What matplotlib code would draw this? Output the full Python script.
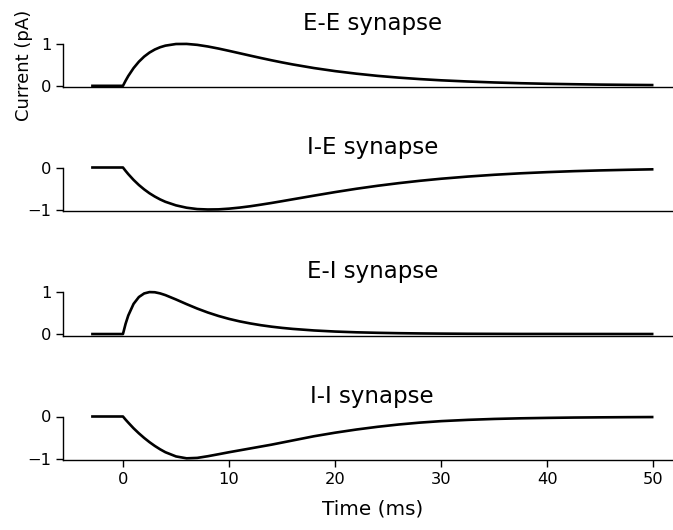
import matplotlib
matplotlib.use("Agg")
import matplotlib.pyplot as plt

# ---- data ----
time_ms = [-3, 0, 0.25, 0.5, 1, 1.5, 2, 2.5, 3, 3.5, 4, 5, 6, 7, 8, 9, 10, 11, 12,
           13, 14, 15, 16, 18, 20, 22, 24, 26, 28, 30, 32.5, 35, 37.5, 40, 42.5,
           45, 47.5, 50]

ee_current = [0, 0, 0.122, 0.233, 0.422, 0.574, 0.696, 0.791, 0.864, 0.918, 0.956,
              0.995, 0.997, 0.975, 0.936, 0.887, 0.832, 0.775, 0.718, 0.662, 0.608,
              0.557, 0.509, 0.423, 0.350, 0.289, 0.237, 0.195, 0.160, 0.131, 0.103,
              0.080, 0.062, 0.048, 0.038, 0.029, 0.023, 0.018]

ie_current = [0, 0, -0.081, -0.157, -0.295, -0.416, -0.521, -0.613, -0.691, -0.759,
              -0.816, -0.901, -0.957, -0.989, -0.999, -0.996, -0.979, -0.954, -0.922,
              -0.884, -0.844, -0.801, -0.757, -0.670, -0.585, -0.506, -0.435, -0.372,
              -0.316, -0.267, -0.216, -0.173, -0.138, -0.110, -0.087, -0.069, -0.055,
              -0.043]

ei_current = [0, 0, 0.244, 0.440, 0.717, 0.880, 0.966, 0.998, 0.994, 0.967, 0.926,
              0.822, 0.711, 0.606, 0.512, 0.430, 0.360, 0.301, 0.252, 0.210, 0.175,
              0.146, 0.122, 0.085, 0.059, 0.041, 0.029, 0.020, 0.014, 0.010, 0.006,
              0.004, 0.002, 0.002, 0.001, 0.001, 0.0004, 0.0003]

ii_current = [0, 0, -0.075, -0.145, -0.28, -0.40, -0.51, -0.61, -0.70, -0.78, -0.85,
              -0.95, -0.995, -0.985, -0.945, -0.898, -0.85, -0.805, -0.76, -0.715,
              -0.67, -0.62, -0.57, -0.47, -0.385, -0.31, -0.245, -0.19, -0.145,
              -0.11, -0.08, -0.058, -0.043, -0.033, -0.025, -0.02, -0.016, -0.013]

titles = ["E-E synapse", "I-E synapse", "E-I synapse", "I-I synapse"]
series = [ee_current, ie_current, ei_current, ii_current]
yticks = [[0, 1], [-1, 0], [0, 1], [-1, 0]]
xticks = [0, 10, 20, 30, 40, 50]

# ---- figure ----
W, H = 673, 530
fig = plt.figure(figsize=(W / 100, H / 100), dpi=100)

left = 63 / W
width = 618.6 / W
bottoms_px = [87.3, 211.0, 335.5, 460.0]
height = 43.5 / H

axes = []
for i, (title, vals, yt) in enumerate(zip(titles, series, yticks)):
    ax = fig.add_axes([left, 1 - bottoms_px[i] / H, width, height],
                      sharex=axes[0] if axes else None)
    axes.append(ax)
    ax.plot(time_ms, vals, color="black", lw=1.9, clip_on=False,
            solid_capstyle="butt", solid_joinstyle="round")
    lo, hi = min(yt), max(yt)
    ax.set_ylim(lo - 0.035 * (hi - lo), hi)
    ax.set_yticks(yt)
    ax.set_title(title, fontsize=16.5, pad=10)
    for s in ("top", "right"):
        ax.spines[s].set_visible(False)
    for s in ("left", "bottom"):
        ax.spines[s].set_linewidth(1.0)
    ax.tick_params(axis="y", labelsize=11.7, length=4.8, width=1.0)
    if i < 3:
        ax.tick_params(axis="x", bottom=False, labelbottom=False)
    else:
        ax.tick_params(axis="x", labelsize=11.7, length=4.8, width=1.0)
        ax.set_xticks(xticks)
        ax.set_xlabel("Time (ms)", fontsize=14.4, labelpad=9)

axes[0].set_ylabel("Current (pA)", fontsize=13, labelpad=6)
axes[0].margins(x=0.05)

fig.savefig("out.png", dpi=100)
